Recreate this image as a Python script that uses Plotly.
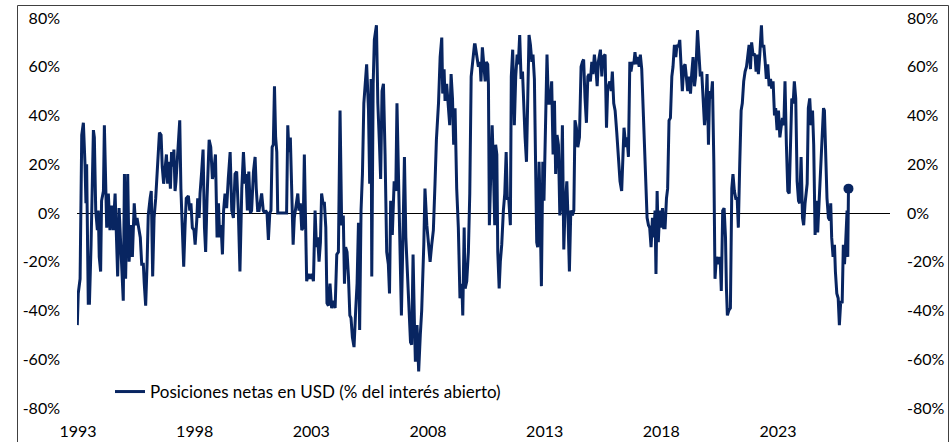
import plotly.graph_objects as go

# Decimal-year dates and net USD positions (% of open interest)
years = [
    1992.97, 1993.01, 1993.09, 1993.11, 1993.16, 1993.23, 1993.27, 1993.30, 1993.34, 1993.37,
    1993.44, 1993.49, 1993.56, 1993.66, 1993.70, 1993.76, 1993.83, 1993.87, 1993.91, 1993.97,
    1994.01, 1994.09, 1994.13, 1994.19, 1994.23, 1994.30, 1994.37, 1994.44, 1994.51, 1994.59,
    1994.64, 1994.70, 1994.76, 1994.81, 1994.87, 1994.94, 1994.99, 1995.04, 1995.13, 1995.19,
    1995.27, 1995.33, 1995.41, 1995.47, 1995.53, 1995.59, 1995.67, 1995.73, 1995.80, 1995.84,
    1995.90, 1995.96, 1996.01, 1996.09, 1996.14, 1996.20, 1996.26, 1996.33, 1996.39, 1996.44,
    1996.49, 1996.56, 1996.61, 1996.67, 1996.73, 1996.79, 1996.84, 1996.90, 1996.96, 1997.01,
    1997.07, 1997.11, 1997.16, 1997.20, 1997.27, 1997.36, 1997.41, 1997.47, 1997.53, 1997.59,
    1997.64, 1997.73, 1997.79, 1997.84, 1997.90, 1997.97,
    1998.02, 1998.09, 1998.13, 1998.19, 1998.23, 1998.30, 1998.36, 1998.42, 1998.47, 1998.53,
    1998.62, 1998.69, 1998.76, 1998.82, 1998.89, 1998.96, 1999.02, 1999.07, 1999.13, 1999.19,
    1999.24, 1999.30, 1999.37, 1999.44, 1999.52, 1999.59, 1999.66, 1999.73, 1999.80, 1999.87,
    1999.94, 2000.02, 2000.09, 2000.16, 2000.20, 2000.26, 2000.32, 2000.39, 2000.44, 2000.52,
    2000.59, 2000.64, 2000.70, 2000.76, 2000.82, 2000.87, 2000.94, 2001.00, 2001.04, 2001.10,
    2001.16, 2001.22, 2001.27, 2001.32, 2001.37, 2001.42, 2001.47, 2001.52, 2001.56, 2001.66,
    2001.80, 2001.94, 2001.99, 2002.04, 2002.10, 2002.16, 2002.22, 2002.27, 2002.33, 2002.42,
    2002.47, 2002.53, 2002.59, 2002.65, 2002.70, 2002.75, 2002.80, 2002.87, 2002.94, 2003.02,
    2003.09, 2003.16, 2003.22, 2003.27, 2003.33, 2003.39, 2003.44, 2003.50, 2003.56, 2003.62,
    2003.67, 2003.73, 2003.80, 2003.87, 2003.94,
    2004.02, 2004.09, 2004.16, 2004.23, 2004.30, 2004.37, 2004.42, 2004.47, 2004.53, 2004.59,
    2004.65, 2004.70, 2004.76, 2004.83, 2004.90, 2004.96, 2005.02, 2005.07, 2005.13, 2005.19,
    2005.25, 2005.30, 2005.37, 2005.45, 2005.50, 2005.56, 2005.59, 2005.65, 2005.70, 2005.79,
    2005.85, 2005.92, 2005.97, 2006.03, 2006.09, 2006.16, 2006.23, 2006.30, 2006.35, 2006.40,
    2006.47, 2006.55, 2006.62, 2006.67, 2006.73, 2006.80, 2006.86, 2006.92, 2006.99, 2007.05,
    2007.12, 2007.19, 2007.25, 2007.30, 2007.36, 2007.42, 2007.46, 2007.53, 2007.60, 2007.67,
    2007.73, 2007.82, 2007.87, 2007.95, 2008.02, 2008.09, 2008.16, 2008.23, 2008.30, 2008.36,
    2008.45, 2008.52, 2008.59, 2008.63, 2008.69, 2008.73, 2008.80, 2008.87, 2008.93, 2008.99,
    2009.05, 2009.10, 2009.16, 2009.23, 2009.30, 2009.37, 2009.45, 2009.49, 2009.55, 2009.59,
    2009.66, 2009.73, 2009.79, 2009.85, 2009.92, 2009.99,
    2010.02, 2010.09, 2010.16, 2010.23, 2010.27, 2010.33, 2010.39, 2010.45, 2010.50, 2010.56,
    2010.59, 2010.63, 2010.69, 2010.75, 2010.80, 2010.86, 2010.90, 2010.95, 2010.99, 2011.05,
    2011.10, 2011.16, 2011.23, 2011.29, 2011.35, 2011.40, 2011.46, 2011.53, 2011.57, 2011.63,
    2011.70, 2011.76, 2011.82, 2011.87, 2011.93, 2011.99, 2012.05, 2012.10, 2012.16, 2012.22,
    2012.27, 2012.33, 2012.39, 2012.45, 2012.50, 2012.56, 2012.62, 2012.66, 2012.70, 2012.76,
    2012.80, 2012.86, 2012.92, 2012.97, 2013.05, 2013.10, 2013.16, 2013.23, 2013.30, 2013.36,
    2013.42, 2013.47, 2013.53, 2013.59, 2013.65, 2013.70, 2013.76, 2013.82, 2013.87, 2013.95,
    2014.00, 2014.06, 2014.12, 2014.19, 2014.25, 2014.30, 2014.36, 2014.42, 2014.49, 2014.56,
    2014.62, 2014.67, 2014.73, 2014.79, 2014.85, 2014.90, 2014.96, 2015.02, 2015.07, 2015.13,
    2015.19, 2015.25, 2015.30, 2015.39, 2015.45, 2015.50, 2015.59, 2015.65, 2015.70, 2015.79,
    2015.85, 2015.90, 2015.96,
    2016.02, 2016.09, 2016.16, 2016.23, 2016.30, 2016.35, 2016.40, 2016.48, 2016.53, 2016.59,
    2016.65, 2016.70, 2016.76, 2016.82, 2016.87, 2016.93, 2016.99, 2017.05, 2017.10, 2017.16,
    2017.22, 2017.27, 2017.33, 2017.39, 2017.45, 2017.50, 2017.56, 2017.62, 2017.67, 2017.73,
    2017.77, 2017.82, 2017.87, 2017.93, 2017.99, 2018.05, 2018.10, 2018.16, 2018.22, 2018.27,
    2018.33, 2018.39, 2018.45, 2018.50, 2018.56, 2018.62, 2018.67, 2018.73, 2018.79, 2018.85,
    2018.90, 2018.96, 2019.02, 2019.07, 2019.13, 2019.19, 2019.25, 2019.30, 2019.36, 2019.42,
    2019.47, 2019.55, 2019.62, 2019.67, 2019.73, 2019.79, 2019.85, 2019.90, 2019.96, 2020.02,
    2020.07, 2020.13, 2020.19, 2020.25, 2020.30, 2020.36, 2020.42, 2020.47, 2020.53, 2020.57,
    2020.63, 2020.69, 2020.75, 2020.79, 2020.83, 2020.89, 2020.96, 2021.02, 2021.07, 2021.13,
    2021.19, 2021.25, 2021.30, 2021.36, 2021.42, 2021.47, 2021.53, 2021.59, 2021.65, 2021.70,
    2021.76, 2021.82, 2021.87, 2021.93, 2021.99,
    2022.02, 2022.06, 2022.10, 2022.16, 2022.22, 2022.29, 2022.33, 2022.39, 2022.45, 2022.50,
    2022.56, 2022.62, 2022.68, 2022.73, 2022.79, 2022.85, 2022.90, 2022.96, 2023.02, 2023.08,
    2023.13, 2023.19, 2023.25, 2023.30, 2023.36, 2023.42, 2023.48, 2023.53, 2023.59, 2023.65,
    2023.70, 2023.76, 2023.82, 2023.88, 2023.93, 2023.99, 2024.05, 2024.10, 2024.16, 2024.25,
    2024.30, 2024.36, 2024.42, 2024.48, 2024.53, 2024.59, 2024.65, 2024.70, 2024.76, 2024.82,
    2024.88, 2024.95, 2024.99, 2025.05, 2025.10, 2025.16, 2025.22, 2025.26, 2025.30, 2025.36,
    2025.42, 2025.46, 2025.52, 2025.58, 2025.63, 2025.69, 2025.75, 2025.80, 2025.85, 2025.90,
    2025.96, 2025.99, 2026.02,
]

net_positions = [
    -46, -33, -27, -10, 32, 37, 28, 20, 4, 20,
    -37, -37, -13, 34, 31, 1, -7, 1, -18, -24,
    5, 9, 36, 12, -6, 8, -7, 3, -7, 8,
    -5, -26, 2, -10, -21, -36, 16, -27, 16, -20,
    -5, -18, 4, -5, -2, -5, -10, -21, -21, -29,
    -38, -21, -1, 6, 9, -26, -2, 6, 17, 27,
    33, 32, 19, 12, 19, 24, 12, 21, 10, 25,
    19, 26, 9, 13, 24, 38, 10, -6, -22, -5,
    6, 7, 1, 4, -6, -7,
    -13, -3, 6, -2, 8, 17, 26, -6, -16, 6,
    30, 27, 14, 17, 24, -10, 4, -10, -5, -17,
    1, 8, 2, 14, 25, 1, -2, 16, 17, 1,
    -24, 10, 25, 12, 16, 1, 17, 0, 1, 17,
    23, 10, 1, 1, 4, 8, 1, 0, 1, 0,
    -11, 0, 1, 27, 28, 52, 31, 25, 0, 0,
    0, 0, 36, 25, 31, 13, -13, -2, 2, 8,
    1, 4, -7, -6, 24, -2, -28, -25, -27, -25,
    -28, 1, -14, -10, -20, -12, 8, 4, 4, -6,
    -37, -38, -29, -39, -36,
    -39, -17, -16, 42, -5, -1, -29, -14, -16, -26,
    -42, -43, -51, -55, -40, -29, -4, -48, 1, 16,
    45, 53, 61, 42, 12, 55, -26, 53, 71, 77,
    45, 28, 14, 50, 53, 24, -16, -21, -33, 5,
    -9, 13, 9, 45, 17, -2, -42, -13, 23, -10,
    -24, -40, -53, -54, -17, -46, -61, -46, -65, -50,
    -40, -13, 10, -5, -12, -20, -13, -7, 12, 30,
    45, 64, 72, 49, 59, 46, 53, 43, 36, 57,
    47, 28, 43, 10, -6, -35, -29, -42, -6, -31,
    -28, -16, 8, 56, 64, 69,
    69, 64, 60, 62, 54, 68, 59, 54, 62, 61,
    53, -5, 16, 36, 20, -5, 28, 24, -16, -31,
    -20, -13, 1, 8, 25, 6, 6, -5, 56, 67,
    36, 56, 65, 61, 73, 55, 58, 42, 31, 21,
    42, 73, 69, 62, 65, 55, 14, -12, -14, 21,
    4, -30, 21, 5, 42, 65, 45, 45, 54, 24,
    46, 16, 32, 28, -1, 4, 36, -15, 1, 13,
    -2, -24, 1, -1, 1, 38, 35, 27, 31, 60,
    62, 63, 47, 37, 56, 57, 54, 62, 57, 65,
    60, 52, 62, 67, 56, 64, 65, 35, 51, 54,
    50, 58, 45,
    42, 33, 23, 13, 9, 25, 35, 27, 31, 23,
    62, 58, 62, 61, 66, 61, 64, 60, 65, 59,
    44, 32, 12, -2, -5, -6, -14, -2, -10, 1,
    -25, 9, -12, 1, -6, 2, -6, -6, 6, 10,
    38, 39, 56, 60, 69, 64, 69, 68, 71, 57,
    50, 60, 61, 56, 50, 56, 49, 57, 64, 52,
    56, 75, 60, 56, 58, 47, 36, 42, 57, 28,
    50, 47, 54, 21, -27, -18, -21, -18, -21, -32,
    1, 2, -10, -31, -42, -40, -39, 10, 16, 9,
    6, 6, -6, 20, 42, 45, 54, 58, 60, 64,
    69, 59, 70, 65, 65,
    64, 58, 65, 57, 65, 77, 68, 69, 62, 55,
    61, 52, 55, 51, 54, 40, 43, 34, 42, 31,
    35, 39, 36, 54, 28, 9, 8, 25, 47, 45,
    54, 47, 13, 5, 4, 23, -2, -5, 4, 12,
    43, 47, 36, 42, 28, -9, 5, -8, 5, 14,
    29, 43, 42, 24, 6, -2, -3, 4, -10, -18,
    -13, -24, -33, -35, -46, -36, -37, -13, -21, -12,
    1, -18, 10,
]

tick_years = [1993, 1998, 2003, 2008, 2013, 2018, 2023]
tick_labels = [str(y) for y in tick_years]
y_ticks = [-80, -60, -40, -20, 0, 20, 40, 60, 80]
y_tick_labels = [f"{v}%" for v in y_ticks]

series_name = "Posiciones netas en USD (% del interés abierto)"
line_color = "#082561"
font = dict(family="Lato", size=16, color="#000000")
legend_font = dict(family="Lato", size=17, color="#000000")

fig = go.Figure()
fig.add_trace(go.Scatter(
    x=years, y=net_positions, mode="lines", name=series_name,
    line=dict(color=line_color, width=3), showlegend=True,
))
fig.add_trace(go.Scatter(
    x=[years[-1]], y=[net_positions[-1]], mode="markers",
    marker=dict(color=line_color, size=10), showlegend=False,
))
# invisible trace on the right-hand axis so its labels render
fig.add_trace(go.Scatter(
    x=[years[0]], y=[net_positions[0]], yaxis="y2", mode="markers",
    marker=dict(opacity=0), showlegend=False, hoverinfo="skip",
))

W, H = 950, 442
ml, mr, mt, mb = 77, 60, 18, 34
pw, ph = W - ml - mr, H - mt - mb

def px_to_paper_x(px):
    return (px - ml) / pw

def px_to_paper_y(py):
    return (H - mb - py) / ph

fig.update_layout(
    width=W, height=H,
    margin=dict(l=ml, r=mr, t=mt, b=mb, autoexpand=False),
    paper_bgcolor="white", plot_bgcolor="white",
    font=font,
    xaxis=dict(
        range=[1992.957, 2027.8], tickmode="array", tickvals=tick_years, ticktext=tick_labels,
        showgrid=False, zeroline=False, showline=False, ticks="", automargin=False,
        ticklabelstandoff=12, tickfont=font,
    ),
    yaxis=dict(
        range=[-80, 80], tickmode="array", tickvals=y_ticks, ticktext=y_tick_labels,
        showgrid=False, zeroline=True, zerolinecolor="#000000", zerolinewidth=1,
        showline=False, ticks="", ticklabelstandoff=16, tickfont=font, automargin=False,
    ),
    yaxis2=dict(
        range=[-80, 80], tickmode="array", tickvals=y_ticks, ticktext=y_tick_labels,
        overlaying="y", side="right", showgrid=False, zeroline=False,
        showline=False, ticks="", ticklabelstandoff=16, tickfont=font, automargin=False,
    ),
    legend=dict(
        x=px_to_paper_x(110), y=px_to_paper_y(392), xanchor="left", yanchor="middle",
        bgcolor="rgba(0,0,0,0)", font=legend_font,
    ),
    shapes=[dict(
        type="rect", xref="paper", yref="paper",
        x0=px_to_paper_x(17.5), x1=px_to_paper_x(948.5),
        y0=px_to_paper_y(448), y1=px_to_paper_y(5.5),
        line=dict(color="#404040", width=1), fillcolor="rgba(0,0,0,0)", layer="below",
    )],
)

fig.write_html(
    "out.html",
    config={"displayModeBar": False},
    post_script="document.body.style.margin='0';",
)
